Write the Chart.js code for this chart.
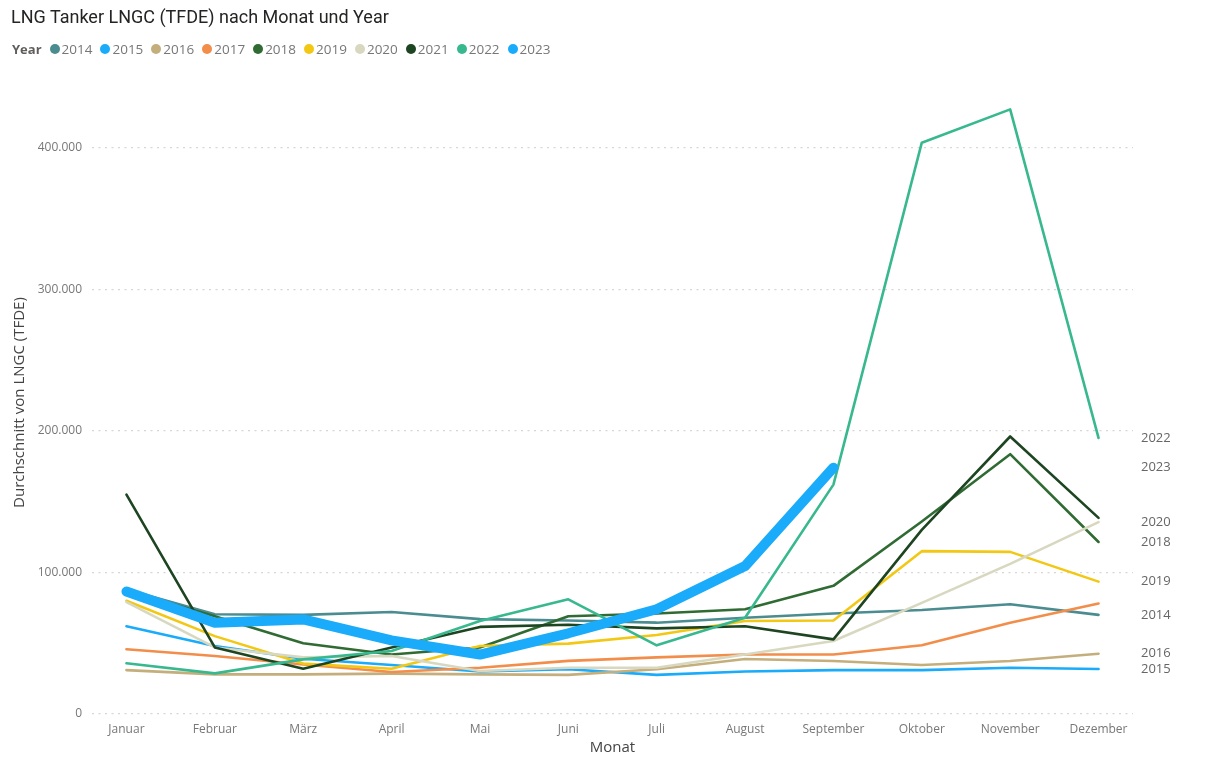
<!DOCTYPE html>
<html>
<head>
<meta charset="utf-8">
<script src="https://cdn.jsdelivr.net/npm/chart.js@4"></script>
<style>
    html, body { margin: 0; padding: 0; background: #fff; }
    #wrap { position: relative; width: 1209px; height: 771px; }
    #title { position: absolute; left: 11px; top: 6px; font: 18px "Roboto", "Open Sans", sans-serif; color: #252423; white-space: nowrap; z-index: 2; }
    #legend { position: absolute; left: 12px; top: 40px; font: 13.5px "Open Sans", sans-serif; color: #777; display: flex; align-items: center; white-space: nowrap; z-index: 2; }
    #legend b { color: #605E5C; margin-right: 8px; font-size: 13px; }
    #legend span.item { display: inline-flex; align-items: center; margin-right: 8px; }
    #legend i { display: inline-block; width: 10px; height: 10px; border-radius: 50%; margin-right: 2px; }
    canvas { position: absolute; left: 0; top: 0; }
</style>
</head>
<body>
<div id="wrap">
    <div id="title">LNG Tanker LNGC (TFDE) nach Monat und Year</div>
    <div id="legend"><b>Year</b></div>
    <canvas id="c" width="1209" height="771"></canvas>
</div>
<script>
// Kategorien
const monat = ['Januar', 'Februar', 'März', 'April', 'Mai', 'Juni', 'Juli', 'August', 'September', 'Oktober', 'November', 'Dezember']
const jahre = ['2014', '2015', '2016', '2017', '2018', '2019', '2020', '2021', '2022', '2023']
const farben = ['#4A8C90', '#1AABFA', '#C4AE7C', '#F28D4A', '#2F6B32', '#F2C814', '#D8D8C0', '#1E4521', '#38B88E', '#1AABFA']

// Durchschnitt von LNGC (TFDE), in Tausend
const y2014 = [88, 70.5, 70, 72, 67, 66, 64.5, 68, 71, 73.5, 77.5, 70]
const y2015 = [62, 48, 39, 34.6, 30, 31.6, 27.6, 30, 31, 31, 32.7, 31.8]
const y2016 = [31, 28, 28, 28.5, 28, 27.6, 31.6, 38.8, 37.4, 34.6, 37.4, 42.6]
const y2017 = [45.7, 41, 35, 29.7, 32.7, 37.5, 40, 42, 42, 48.5, 64.5, 78]
const y2018 = [87, 69, 50, 42, 47, 69, 71, 74, 90.5, 136, 183.5, 121.5]
const y2019 = [80, 55, 35.6, 32, 48, 49.7, 55.8, 65.7, 66, 115, 114.5, 93.5]
const y2020 = [79, 47, 40, 41, 30.4, 32.7, 32.7, 42, 51.6, 78.5, 106, 135.5]
const y2021 = [155, 47, 32, 47, 61.5, 63, 60.5, 62, 52.7, 130, 196, 138.5]
const y2022 = [35.8, 28.7, 38.6, 44.5, 65.7, 81, 48.5, 68, 162, 403.5, 427, 195]
const y2023 = [86.5, 64.5, 66.8, 52, 42, 57, 74, 104.5, 174, null, null, null]
const werte = [y2014, y2015, y2016, y2017, y2018, y2019, y2020, y2021, y2022, y2023]

const yTicks = [0, 100000, 200000, 300000, 400000]
const endLabels = ['2022', '2023', '2020', '2018', '2019', '2014', '2016', '2015'] // sichtbare Beschriftungen rechts

// Legende
const legend = document.getElementById('legend')
jahre.forEach((j, i) => {
    const s = document.createElement('span')
    s.className = 'item'
    s.innerHTML = `<i style="background:${farben[i]}"></i>${j}`
    legend.appendChild(s)
})

const datasets = jahre.map((j, i) => ({
    label: j,
    data: werte[i].map((v, k) => ({x: k, y: v === null ? null : v * 1000})),
    borderColor: farben[i],
    backgroundColor: farben[i],
    borderWidth: j === '2023' ? 10 : 2.6,
    pointRadius: 0,
    tension: 0,
    borderJoinStyle: 'round',
    borderCapStyle: 'round',
    spanGaps: false,
    order: -i
}))

const endLabelPlugin = {
    id: 'endLabels',
    afterDatasetsDraw(chart) {
        const ctx = chart.ctx
        ctx.save()
        ctx.font = '13px "Open Sans", sans-serif'
        ctx.fillStyle = '#666'
        ctx.textBaseline = 'middle'
        ctx.textAlign = 'left'
        chart.data.datasets.forEach((ds, i) => {
            if (!endLabels.includes(ds.label)) return
            const pts = chart.getDatasetMeta(i).data.filter((p, k) => ds.data[k].y !== null)
            const last = pts[pts.length - 1]
            ctx.fillText(ds.label, chart.chartArea.right + 8, last.y)
        })
        ctx.restore()
    }
}

new Chart(document.getElementById('c'), {
    type: 'line',
    data: {datasets},
    plugins: [endLabelPlugin],
    options: {
        responsive: false,
        animation: false,
        layout: {padding: {left: 0, right: 76, top: 91, bottom: 0}},
        plugins: {legend: {display: false}, title: {display: false}, tooltip: {enabled: false}},
        scales: {
            x: {
                type: 'linear',
                min: -0.39,
                max: 11.39,
                grid: {display: false},
                border: {display: false},
                afterBuildTicks: s => { s.ticks = monat.map((m, i) => ({value: i})) },
                afterFit: s => { s.height = 57 },
                ticks: {
                    callback: v => monat[v],
                    color: '#777',
                    font: {family: 'Open Sans', size: 12},
                    padding: 0,
                    maxRotation: 0,
                    autoSkip: false
                },
                title: {display: true, text: 'Monat', color: '#444', font: {family: 'Open Sans', size: 15}, padding: {top: 0, bottom: 14}}
            },
            y: {
                min: 0,
                max: 440000,
                afterBuildTicks: s => { s.ticks = yTicks.map(v => ({value: v})) },
                afterFit: s => { s.width = 92 },
                grid: {color: '#d6d6d6', lineWidth: 1.2, drawTicks: false},
                border: {display: false, dash: [2, 4.5]},
                ticks: {
                    callback: v => v.toLocaleString('de-DE'),
                    color: '#777',
                    font: {family: 'Open Sans', size: 12},
                    padding: 10
                },
                title: {display: true, text: 'Durchschnitt von LNGC (TFDE)', color: '#444', font: {family: 'Open Sans', size: 15}, padding: {top: 11, bottom: 0}}
            }
        }
    }
})
</script>
</body>
</html>
